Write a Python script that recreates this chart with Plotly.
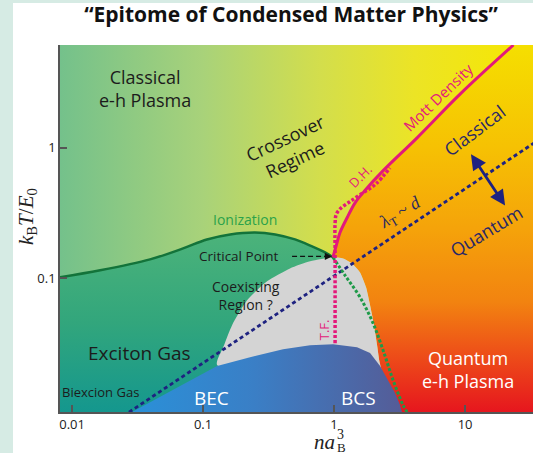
import numpy as np
import plotly.graph_objects as go

# ---------------- data ----------------
x_ticks = [0.01, 0.1, 1, 10]
x_tick_text = ["0.01", "0.1", "1", "10"]
y_ticks = [0.1, 1]
y_tick_text = ["0.1", "1"]

x_range = [0.00809, 33.0]
y_range = [0.00948, 6.11]

crit_x, crit_y = 0.98, 0.145

mott_x = [0.98, 1.04, 1.11, 1.26, 1.45, 1.72, 2.37, 4.3, 9.2, 23.4]
mott_y = [0.145, 0.179, 0.224, 0.292, 0.38, 0.47, 0.667, 1.19, 2.58, 6.11]

tf_dh_x = [1.018, 1.018, 1.018, 1.018, 1.04, 1.13, 1.31, 1.60, 2.08, 2.67]
tf_dh_y = [0.0319, 0.0679, 0.1636, 0.262, 0.310, 0.345, 0.384, 0.44, 0.527, 0.70]

ion_x = [0.00809, 0.0164, 0.0394, 0.0704, 0.107, 0.161, 0.249, 0.355, 0.503, 0.68, 0.854, 0.98]
ion_y = [0.1018, 0.1151, 0.1397, 0.1694, 0.1985, 0.2168, 0.2245, 0.2168, 0.1985, 0.1755, 0.158, 0.145]

gd_x = [0.98, 1.213, 1.579, 1.985, 2.366, 2.82, 3.36, 3.61]
gd_y = [0.145, 0.1054, 0.0716, 0.0453, 0.0282, 0.01665, 0.01073, 0.00948]

coex_left_x = [0.128, 0.1446, 0.1665, 0.2168, 0.308, 0.461, 0.656, 0.98]
coex_left_y = [0.0217, 0.0308, 0.0438, 0.0679, 0.0949, 0.119, 0.1349, 0.145]
coex_right_x = [0.98, 1.171, 1.372, 1.579, 1.755, 1.883, 2.02, 2.13, 2.21, 2.285]
coex_right_y = [0.145, 0.142, 0.130, 0.111, 0.0853, 0.0622, 0.0438, 0.0308, 0.0237, 0.0182]

dome_x = [0.0287, 0.128, 0.2285, 0.408, 0.656, 0.983, 1.498, 1.883, 2.245, 2.58, 2.92, 3.19, 3.30]
dome_y = [0.00948, 0.0213, 0.0249, 0.0287, 0.0308, 0.0313, 0.0297, 0.0268, 0.0213, 0.01665, 0.01325, 0.01073, 0.00948]

lam_x = [0.02, 40]
lam_y = [0.0077, 1.22]

# double arrow Classical <-> Quantum
darrow_x = [10.9, 20.2]
darrow_y = [0.916, 0.361]

# critical-point pointer
cp_line_x = [0.478, 0.86]
cp_line_y = [0.147, 0.147]

# ---------------- style ----------------
FONT = "Open Sans"
PINK = "#e3197b"
NAVY = "#1e2280"
DARK = "#1c1c1c"

fig = go.Figure()

x0, x1 = x_range
y0, y1 = y_range

# background: horizontal green -> yellow
fig.add_trace(go.Scatter(
    x=[x0, x1, x1, x0, x0], y=[y0, y0, y1, y1, y0],
    mode="lines", line=dict(width=0), fill="toself",
    fillgradient=dict(type="horizontal", colorscale=[
        [0, "#74c18b"], [0.3, "#a8d27a"], [0.55, "#d3de4c"],
        [0.75, "#ece425"], [1, "#f7e700"]]),
    hoverinfo="skip", showlegend=False))

# exciton gas region (below ionization)
ex_x = [x0] + ion_x + [crit_x, x0]
ex_y = [y0] + ion_y + [y0, y0]
fig.add_trace(go.Scatter(
    x=ex_x, y=ex_y, mode="lines", line=dict(width=0), fill="toself",
    fillgradient=dict(type="vertical", colorscale=[
        [0, "#14978e"], [0.5, "#32a67c"], [1, "#4cb37a"]]),
    hoverinfo="skip", showlegend=False))

# quantum plasma region (right of Mott line, under the gray region and dome)
or_x = [x1, mott_x[-1]] + mott_x[::-1] + coex_right_x[1:] + [coex_right_x[-1], x1, x1]
or_y = [y1, y1] + mott_y[::-1] + coex_right_y[1:] + [y0, y0, y1]
fig.add_trace(go.Scatter(
    x=or_x, y=or_y, mode="lines", line=dict(width=0), fill="toself",
    fillgradient=dict(type="vertical", colorscale=[
        [0, "#e6161e"], [0.17, "#ee5318"], [0.3, "#f28310"],
        [0.5, "#f5a30a"], [0.72, "#f6c103"], [1, "#f5df00"]]),
    hoverinfo="skip", showlegend=False))

# coexisting region (gray)
cx = coex_left_x + coex_right_x[1:] + [coex_left_x[0]]
cy = coex_left_y + coex_right_y[1:] + [coex_left_y[0]]
fig.add_trace(go.Scatter(
    x=cx, y=cy, mode="lines", line=dict(width=0, shape="spline", smoothing=0.6),
    fill="toself", fillcolor="#d4d4d4", hoverinfo="skip", showlegend=False))

# BEC-BCS dome
fig.add_trace(go.Scatter(
    x=dome_x + [dome_x[0]], y=dome_y + [dome_y[0]], mode="lines",
    line=dict(width=0), fill="toself",
    fillgradient=dict(type="horizontal", colorscale=[
        [0, "#2a90d8"], [0.45, "#3a7fc6"], [1, "#555c97"]]),
    hoverinfo="skip", showlegend=False))

# lambda_T ~ d line
fig.add_trace(go.Scatter(x=lam_x, y=lam_y, mode="lines",
                         line=dict(color=NAVY, width=2.8, dash="4px,3px"),
                         hoverinfo="skip", showlegend=False))
# green dotted line
fig.add_trace(go.Scatter(x=gd_x, y=gd_y, mode="lines",
                         line=dict(color="#1e9a48", width=3, dash="3px,2px", shape="spline"),
                         hoverinfo="skip", showlegend=False))
# ionization
fig.add_trace(go.Scatter(x=ion_x, y=ion_y, mode="lines",
                         line=dict(color="#13733a", width=2.5, shape="spline"),
                         hoverinfo="skip", showlegend=False))
# T.F. / D.H. dotted
fig.add_trace(go.Scatter(x=tf_dh_x, y=tf_dh_y, mode="lines",
                         line=dict(color=PINK, width=3.5, dash="3px,2px", shape="spline"),
                         hoverinfo="skip", showlegend=False))
# Mott density
fig.add_trace(go.Scatter(x=mott_x, y=mott_y, mode="lines",
                         line=dict(color=PINK, width=3, shape="spline"),
                         hoverinfo="skip", showlegend=False))
# critical point dashed pointer
fig.add_trace(go.Scatter(x=cp_line_x, y=cp_line_y, mode="lines",
                         line=dict(color="#111111", width=1.2, dash="5px,3px"),
                         hoverinfo="skip", showlegend=False))

L = np.log10
ann = []


def txt(x, y, text, size, color=DARK, angle=0, family=FONT):
    ann.append(dict(x=L(x), y=L(y), xref="x", yref="y", text=text, showarrow=False,
                    textangle=angle, font=dict(size=size, color=color, family=family),
                    xanchor="center", yanchor="middle"))


txt(0.0361, 2.82, "Classical<br>e-h Plasma", 18)
txt(0.461, 0.98, "Crossover<br>Regime", 18, angle=-25)
txt(0.209, 0.282, "Ionization", 14, color="#2ba24a")
txt(0.185, 0.147, "Critical Point", 13.5)
txt(0.213, 0.0741, "Coexisting<br>Region ?", 14)
txt(0.033, 0.0267, "Exciton Gas", 19)
txt(0.0164, 0.0135, "Biexcion Gas", 13)
txt(0.115, 0.0121, "BEC", 19, color="white")
txt(1.524, 0.0121, "BCS", 19, color="white")
txt(10.5, 0.0199, "Quantum<br>e-h Plasma", 18, color="white")
txt(6.22, 2.45, "Mott Density", 15, color=PINK, angle=-44)
txt(1.58, 0.61, "D.H.", 13, color=PINK, angle=-45)
txt(0.839, 0.0401, "T.F.", 13, color=PINK, angle=-90)
txt(3.19, 0.313, "<i>λ</i><sub>T</sub> ~ <i>d</i>", 18, color="#2a2a60", angle=-31,
    family="Liberation Serif")
txt(11.9, 1.37, "Classical", 18, color="#2a2866", angle=-37)
txt(14.5, 0.232, "Quantum", 18, color="#2a2866", angle=-31)

# arrowhead to critical point
ann.append(dict(x=L(0.965), y=L(0.147), ax=L(0.84), ay=L(0.147), xref="x", yref="y",
                axref="x", ayref="y", text="", showarrow=True, arrowhead=2,
                arrowsize=1.2, arrowwidth=1.2, arrowcolor="#111111"))
# double arrow
ann.append(dict(x=L(darrow_x[1]), y=L(darrow_y[1]), ax=L(darrow_x[0]), ay=L(darrow_y[0]),
                xref="x", yref="y", axref="x", ayref="y", text="", showarrow=True,
                arrowhead=2, startarrowhead=2, arrowside="end+start",
                arrowsize=1.1, startarrowsize=1.1, arrowwidth=2.8, arrowcolor=NAVY))


def paper_txt(px, py, text, size, angle=0, xanchor="center"):
    ann.append(dict(x=(px - 60) / 473, y=(412 - py) / 367, xref="paper", yref="paper",
                    text=text, showarrow=False, textangle=angle, borderpad=0,
                    xanchor=xanchor, yanchor="middle",
                    font=dict(family="Liberation Serif", size=size, color="#222")))


# x-axis title n a_B^3 built from pieces (stacked super/subscript)
paper_txt(336, 442, "<i>na</i>", 21, xanchor="right")
paper_txt(336, 434, "3", 14, xanchor="left")
paper_txt(336, 447, "B", 13, xanchor="left")
# y-axis title
paper_txt(27, 217, "<i>k</i><sub>B</sub><i>T</i>/<i>E</i><sub>0</sub>", 21, angle=-90)

fig.update_layout(
    width=533, height=453,
    margin=dict(l=60, r=0, t=45, b=41),
    paper_bgcolor="white", plot_bgcolor="white",
    showlegend=False,
    annotations=ann,
    title=dict(text="<b>“Epitome of Condensed Matter Physics”</b>",
               x=291 / 533, xref="container", xanchor="center", y=1 - 15 / 453, yref="container",
               yanchor="middle", font=dict(family=FONT, size=21, color="#111111")),
    shapes=[
        dict(type="rect", xref="paper", yref="paper", x0=-60 / 473, x1=-47 / 473,
             y0=-41 / 367, y1=412 / 367, fillcolor="#d6ebe4", line=dict(width=0), layer="below"),
        dict(type="rect", xref="paper", yref="paper", x0=-60 / 473, x1=1,
             y0=409 / 367, y1=412 / 367, fillcolor="#d6ebe4", line=dict(width=0), layer="below"),
    ],
)

fig.update_xaxes(type="log", range=[L(x0), L(x1)], tickvals=x_ticks, ticktext=x_tick_text,
                 ticks="inside", ticklen=7, tickcolor="#555", tickwidth=1.5,
                 showline=True, linecolor="#555", linewidth=1.5, showgrid=False, zeroline=False,
                 tickfont=dict(family=FONT, size=13, color="#222"))
fig.update_yaxes(type="log", range=[L(y0), L(y1)], tickvals=y_ticks, ticktext=y_tick_text,
                 ticks="inside", ticklen=7, tickcolor="#555", tickwidth=1.5,
                 showline=True, linecolor="#555", linewidth=1.5, showgrid=False, zeroline=False,
                 tickfont=dict(family=FONT, size=13, color="#222"))

fig.write_html("out.html", config={"displayModeBar": False})

# remove the default page margin so the figure sits at the window's top-left corner
with open("out.html", "r", encoding="utf-8") as f:
    html = f.read()
html = html.replace("<body>", '<body style="margin:0;padding:0;overflow:hidden">', 1)
with open("out.html", "w", encoding="utf-8") as f:
    f.write(html)
